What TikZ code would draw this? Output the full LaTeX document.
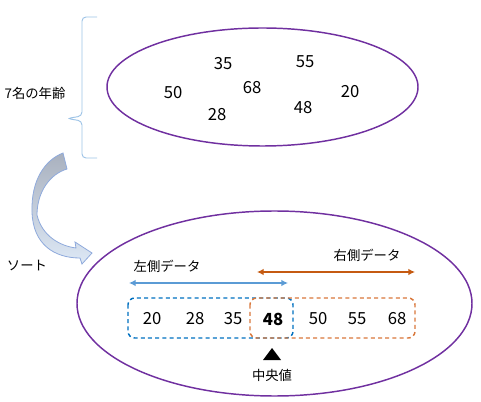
\documentclass[tikz,border=0pt]{standalone}
\usepackage{fontspec}
\setmainfont{Noto Sans CJK JP}
\usepackage{xcolor}
\usetikzlibrary{arrows.meta,shapes.geometric}
\definecolor{ovalpurple}{HTML}{7030A0}
\definecolor{bracecol}{HTML}{9DC3E6}
\definecolor{leftcol}{HTML}{5B9BD5}
\definecolor{leftbox}{HTML}{0070C0}
\definecolor{rightcol}{HTML}{C55A11}
\definecolor{rightbox}{HTML}{D9773A}
\definecolor{sorttop}{HTML}{A9B1BE}
\definecolor{sortbot}{HTML}{DDE8F6}
\definecolor{sortedge}{HTML}{8FAADC}

\begin{document}
\begin{tikzpicture}[
  x=0.75pt, y=-0.75pt,
  >=Latex,
  oval/.style={draw=ovalpurple, line width=1.1pt, ellipse, inner sep=0pt},
  num/.style={font=\fontsize{12.5}{14}\selectfont, inner sep=0pt},
  lbl/.style={font=\fontsize{10}{12}\selectfont, inner sep=0pt},
  span/.style={line width=1.2pt, {Latex[length=5pt,width=5pt]}-{Latex[length=5pt,width=5pt]}},
  half/.style={dashed, dash pattern=on 3pt off 2.4pt, line width=1.1pt, rounded corners=5pt}
]
\useasboundingbox (0,0) rectangle (481,402);

% before sorting
\node[oval, minimum width=233.25pt, minimum height=88.5pt] (ages) at (262.5,87) {};
\node[num] (a35) at (223,64) {35};
\node[num] (a55) at (305,62) {55};
\node[num] (a50) at (173,93) {50};
\node[num] (a68) at (252,88) {68};
\node[num] (a20) at (350,92) {20};
\node[num] (a28) at (217,115) {28};
\node[num] (a48) at (303,108) {48};

\draw[bracecol, line width=0.7pt, rounded corners=3pt]
  (97,17) -- (82,17) -- (82,116) -- (67,118.5) -- (82,121) -- (82,158) -- (97,158);
\node[lbl] (count) at (35,93) {7名の年齢};

% sort arrow
\shade[top color=sorttop, bottom color=sortbot, draw=sortedge, line width=0.6pt]
  (63,153) -- (67,169) .. controls (50,174) and (37,192) .. (37,215)
  .. controls (42,236) and (60,246) .. (76,248) -- (75,242) -- (92,253)
  -- (82,264) -- (80,258) .. controls (55,258) and (33,245) .. (32,212)
  .. controls (31,180) and (45,160) .. (63,153) -- cycle;
\node[lbl] (sort) at (27,266) {ソート};

% after sorting
\node[oval, minimum width=296.25pt, minimum height=138.75pt] (sorted) at (274.5,303.5) {};

\coordinate (lA) at (129,283);
\coordinate (lB) at (288,283);
\coordinate (rA) at (257,272);
\coordinate (rB) at (415,272);
\draw[span, leftcol] (lA) -- (lB);
\draw[span, rightcol] (rA) -- (rB);
\node[lbl] (lefttxt) at (167,266) {左側データ};
\node[lbl] (righttxt) at (367,255) {右側データ};

\draw[half, leftbox] (128,298) rectangle (293,338);
\draw[half, rightbox] (250,298) rectangle (415,338);

\node[num] (b20) at (152,319) {20};
\node[num] (b28) at (195,319) {28};
\node[num] (b35) at (233,319) {35};
\node[num, font=\fontsize{12.5}{14}\selectfont\bfseries] (b48) at (273,319) {48};
\node[num] (b50) at (318,319) {50};
\node[num] (b55) at (357,319) {55};
\node[num] (b68) at (397,319) {68};

\fill (263,360) -- (272,348) -- (281,360) -- cycle;
\node[lbl] (median) at (272,375) {中央値};
\end{tikzpicture}
\end{document}
